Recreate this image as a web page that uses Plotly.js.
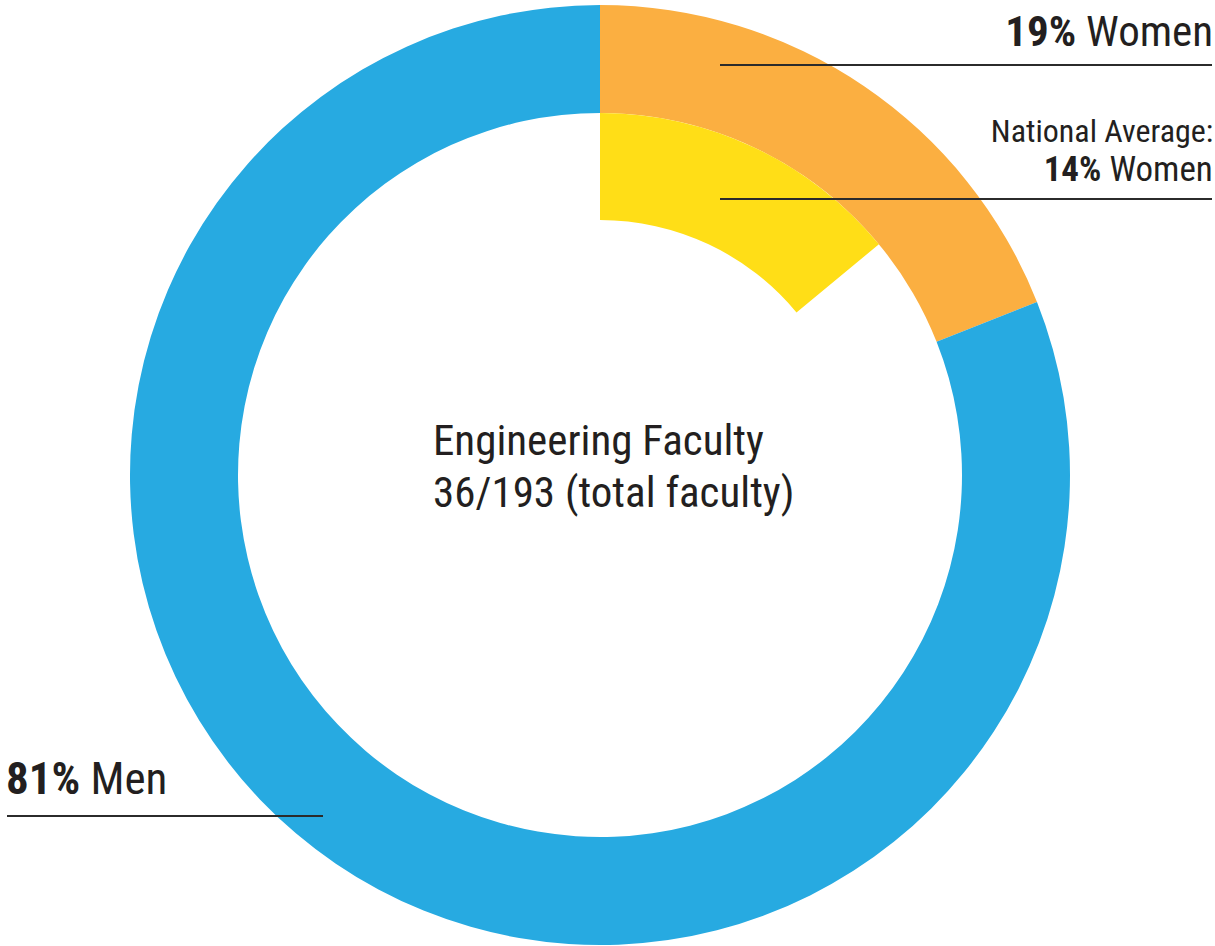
<!DOCTYPE html>
<html>
<head>
<meta charset="utf-8">
<script src="https://cdn.plot.ly/plotly-3.0.1.min.js"></script>
<style>
  html, body { margin: 0; padding: 0; background: #fff; }
  #chart { width: 1215px; height: 946px; }
  /* condensed cut of Roboto, closer to the original lettering */
  #chart svg text { font-stretch: 75%; }
</style>
</head>
<body>
<div id="chart"></div>
<script>
// Engineering faculty by gender (percent)
const facultyLabels = ['Women', 'Men'];
const facultyShares = [19, 81];
const facultyColors = ['#FBAF41', '#27AAE1'];

// National average share of women (inner ring), rest left empty
const nationalLabels = ['Women (national average)', 'Rest'];
const nationalShares = [14, 86];
const nationalColors = ['#FFDE17', 'rgba(0,0,0,0)'];

const centerLines = ['Engineering Faculty', '36/193 (total faculty)'];

const W = 1215, H = 946;
const cx = 600, cy = 475;
const rOuter = 470, rMid = 362, rInner = 255;

// helpers: pixel -> paper
const px = x => x / W;
const py = y => 1 - y / H;

function domainFor(r) {
    return { x: [px(cx - r), px(cx + r)], y: [py(cy + r), py(cy - r)] };
}

const FONT = "Roboto, 'Liberation Sans', sans-serif";
const INK = '#231F20';

const outerRing = {
    type: 'pie',
    labels: facultyLabels,
    values: facultyShares,
    marker: { colors: facultyColors, line: { width: 0 } },
    hole: rMid / rOuter,
    sort: false,
    direction: 'clockwise',
    rotation: 0,
    textinfo: 'none',
    hoverinfo: 'none',
    domain: domainFor(rOuter)
};

const innerRing = {
    type: 'pie',
    labels: nationalLabels,
    values: nationalShares,
    marker: { colors: nationalColors, line: { width: 0 } },
    hole: rInner / rMid,
    sort: false,
    direction: 'clockwise',
    rotation: 0,
    textinfo: 'none',
    hoverinfo: 'none',
    domain: domainFor(rMid)
};

function label(text, x, y, size, xanchor) {
    return {
        text: text, xref: 'paper', yref: 'paper',
        x: px(x), y: py(y), xanchor: xanchor, yanchor: 'middle',
        showarrow: false, align: xanchor === 'right' ? 'right' : 'left',
        font: { family: FONT, size: size, color: INK }
    };
}

function rule(x0, x1, y) {
    return {
        type: 'line', xref: 'paper', yref: 'paper',
        x0: px(x0), x1: px(x1), y0: py(y), y1: py(y),
        line: { color: '#2b2b2b', width: 1.8 }, layer: 'above'
    };
}

const layout = {
    width: W, height: H,
    margin: { l: 0, r: 0, t: 0, b: 0 },
    paper_bgcolor: '#fff',
    showlegend: false,
    annotations: [
        label('<b>' + facultyShares[0] + '%</b> ' + facultyLabels[0], 1215, 31, 43, 'right'),
        label('National Average:', 1215, 131, 32, 'right'),
        label('<b>' + nationalShares[0] + '%</b> Women', 1215, 169, 35, 'right'),
        label('<b>' + facultyShares[1] + '%</b> ' + facultyLabels[1], 4, 778, 45, 'left'),
        label(centerLines[0], 431, 440, 43, 'left'),
        label(centerLines[1], 431, 492, 43, 'left')
    ],
    shapes: [
        rule(720, 1212, 65),
        rule(720, 1212, 199),
        rule(7, 323, 816)
    ]
};

Plotly.newPlot('chart', [outerRing, innerRing], layout, { displayModeBar: false, staticPlot: true });
</script>
</body>
</html>
